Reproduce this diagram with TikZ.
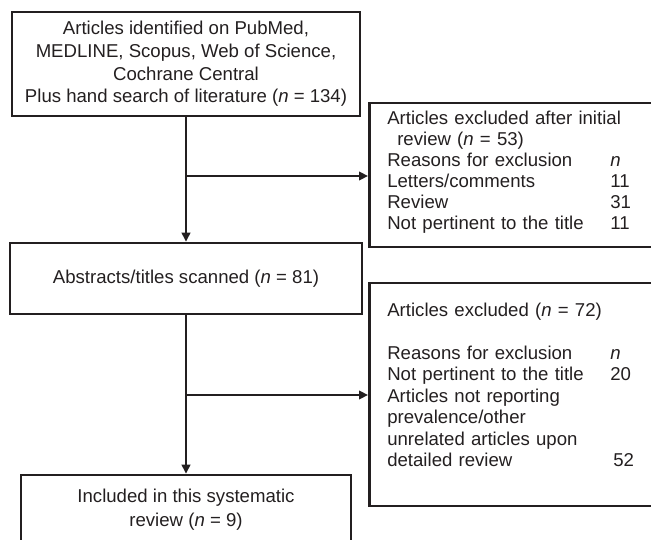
\documentclass[tikz,border=0pt]{standalone}
\usepackage{fontspec}
\setmainfont{Liberation Sans}
\usetikzlibrary{arrows.meta}
\definecolor{ink}{HTML}{231F20}
\newcommand\rowx[2]{\makebox[223pt][l]{#1}#2}
\begin{document}
\begin{tikzpicture}[x=1pt,y=-1pt,
  box/.style={draw=ink, line width=2.6pt, text=ink, inner sep=0pt, font=\fontsize{18.6}{22.7}\selectfont},
  sidebox/.style={box, anchor=west, text width=260pt, inner xsep=18pt, align=left},
  conn/.style={draw=ink, line width=2.6pt, -{Triangle[length=9pt,width=8.5pt]}},
]
\useasboundingbox (0,0) rectangle (651,540);
\node[box, minimum width=348pt, minimum height=104pt, align=center] (b1) at (186,64)
  {Articles identified on PubMed,\\MEDLINE, Scopus, Web of Science,\\Cochrane Central\\Plus hand search of literature (\textit{n} = 134)};
\node[box, minimum width=352pt, minimum height=71pt, align=center] (b3) at (186,278.5)
  {Abstracts/titles scanned (\textit{n} = 81)};
\node[box, minimum width=330pt, minimum height=70pt, align=center, font=\fontsize{18.6}{24}\selectfont] (b5) at (186,510)
  {Included in this systematic\\review (\textit{n} = 9)};
\node[sidebox, minimum height=144pt, font=\fontsize{18.6}{21}\selectfont] (b2) at (368,175)
  {Articles excluded after initial\\
   \hspace*{10pt}review (\textit{n} = 53)\\
   \rowx{Reasons for exclusion}{\textit{n}}\\
   \rowx{Letters/comments}{11}\\
   \rowx{Review}{31}\\
   \rowx{Not pertinent to the title}{11}\rule[-8.5pt]{0pt}{8.5pt}};
\node[sidebox, minimum height=223pt, font=\fontsize{18.6}{21.5}\selectfont] (b4) at (368,394.5)
  {Articles excluded (\textit{n} = 72)\\[21.5pt]
   \rowx{Reasons for exclusion}{\textit{n}}\\
   \rowx{Not pertinent to the title}{20}\\
   Articles not reporting\\
   prevalence/other\\
   unrelated articles upon\\
   \rowx{detailed review}{\hspace*{3pt}52}\rule[-19pt]{0pt}{19pt}};
\coordinate (j1) at (186,176);
\coordinate (j2) at (186,395);
\draw[conn] (b1.south) -- (b3.north);
\draw[conn] (j1) -- (j1 -| b2.west);
\draw[conn] (b3.south) -- (b5.north);
\draw[conn] (j2) -- (j2 -| b4.west);
\end{tikzpicture}
\end{document}
